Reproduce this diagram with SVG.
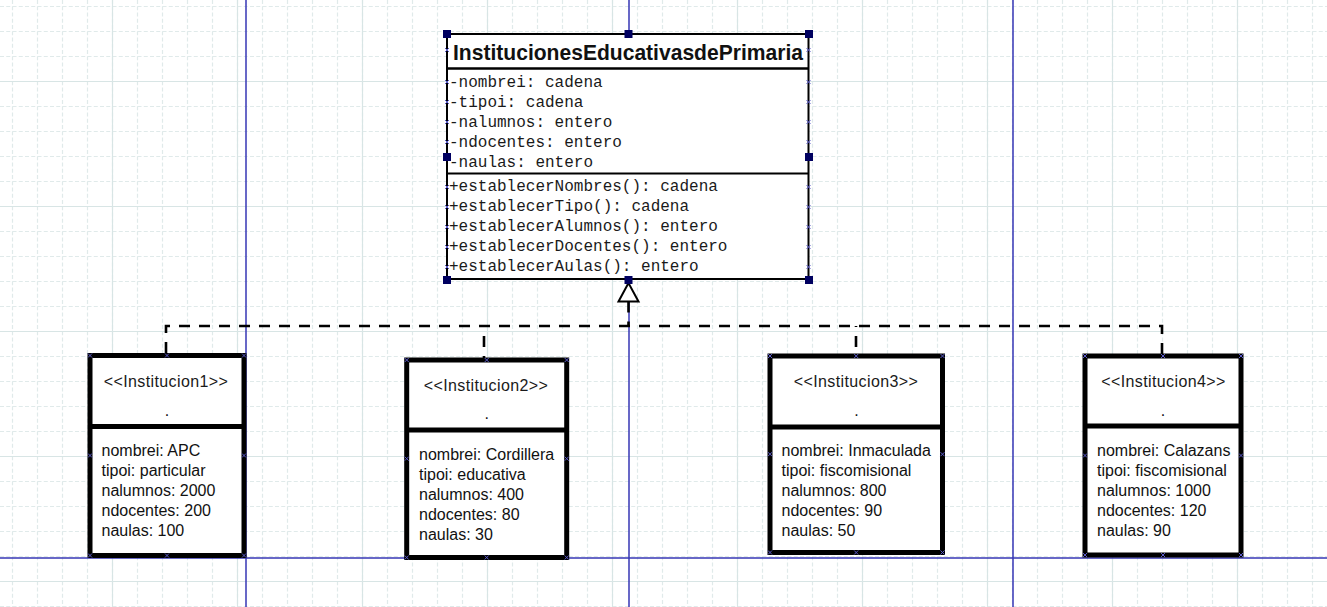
<svg xmlns="http://www.w3.org/2000/svg" width="1327" height="607" viewBox="0 0 1327 607">
<style>
.box{fill:#fff;stroke:#000;stroke-width:5}
.sep{stroke:#000;stroke-width:5}
.cls{fill:#fff;stroke:#000;stroke-width:2}
.mono{font-family:"Liberation Mono","Courier New",monospace;font-size:16px;fill:#1a1a1a}
.title{font-family:"Liberation Sans",Arial,sans-serif;font-weight:bold;font-size:22px;fill:#111}
.hdr{font-family:"Liberation Sans",Arial,sans-serif;font-size:16px;fill:#1a1a1a;letter-spacing:0.4px}
.body{font-family:"Liberation Sans",Arial,sans-serif;font-size:16px;fill:#111}
.mk{fill:none;stroke:#5a5ac8;stroke-width:1}
.hd{fill:#000060}
.blue{stroke:#3636b4;stroke-width:1.5}
.dash{fill:none;stroke:#000;stroke-width:2.6;stroke-dasharray:11 9}
</style>
<defs>
<pattern id="minor" width="25" height="25" patternUnits="userSpaceOnUse">
<line x1="12.5" y1="0" x2="12.5" y2="25" stroke="#e0eaea" stroke-width="1.2" stroke-dasharray="4 2.25"/>
<line x1="0" y1="6.5" x2="25" y2="6.5" stroke="#e0eaea" stroke-width="1.2" stroke-dasharray="4 2.25"/>
</pattern>
<pattern id="major" width="125" height="125" patternUnits="userSpaceOnUse">
<line x1="112.5" y1="0" x2="112.5" y2="125" stroke="#d8e5e5" stroke-width="1.2"/>
<line x1="0" y1="81.5" x2="125" y2="81.5" stroke="#d8e5e5" stroke-width="1.2"/>
</pattern>
</defs>
<rect width="1327" height="607" fill="#fff"/>
<rect width="1327" height="607" fill="url(#minor)"/>
<rect width="1327" height="607" fill="url(#major)"/>
<g id="guides">
<line class="blue" x1="246" y1="0" x2="246" y2="607"/>
<line class="blue" x1="629" y1="0" x2="629" y2="607"/>
<line class="blue" x1="1013" y1="0" x2="1013" y2="607"/>
<line class="blue" x1="0" y1="558" x2="1327" y2="558"/>
</g>
<g id="connectors">
<path class="dash" d="M166 353 V326 H1162 V354"/>
<path class="dash" d="M628.5 301.5 V326"/>
<path class="dash" style="stroke-dashoffset:10" d="M484 326 V358"/>
<path class="dash" style="stroke-dashoffset:10" d="M856 326 V354"/>
<polygon points="628.5,283 618.5,301.5 638.5,301.5" fill="#fff" stroke="#000" stroke-width="2"/>
</g>
<g id="InstitucionesEducativasdePrimaria">
<rect class="cls" x="447" y="34" width="361.5" height="245"/>
<line x1="447" y1="68.5" x2="808.5" y2="68.5" stroke="#000" stroke-width="2.6"/>
<line x1="447" y1="173.5" x2="808.5" y2="173.5" stroke="#000" stroke-width="2"/>
<text class="title" x="453" y="60" textLength="350" lengthAdjust="spacingAndGlyphs">InstitucionesEducativasdePrimaria</text>
<text class="mono" x="449" y="87">-nombrei: cadena</text>
<text class="mono" x="449" y="107">-tipoi: cadena</text>
<text class="mono" x="449" y="127">-nalumnos: entero</text>
<text class="mono" x="449" y="147">-ndocentes: entero</text>
<text class="mono" x="449" y="167">-naulas: entero</text>
<text class="mono" x="449" y="191">+establecerNombres(): cadena</text>
<text class="mono" x="449" y="211">+establecerTipo(): cadena</text>
<text class="mono" x="449" y="231">+establecerAlumnos(): entero</text>
<text class="mono" x="449" y="251">+establecerDocentes(): entero</text>
<text class="mono" x="449" y="271">+establecerAulas(): entero</text>
<path class="mk" d="M445 48 l4 4 m0 -4 l-4 4 M445 80 l4 4 m0 -4 l-4 4 M445 100 l4 4 m0 -4 l-4 4 M445 120 l4 4 m0 -4 l-4 4 M445 140 l4 4 m0 -4 l-4 4 M445 185 l4 4 m0 -4 l-4 4 M445 205 l4 4 m0 -4 l-4 4 M445 225 l4 4 m0 -4 l-4 4 M445 245 l4 4 m0 -4 l-4 4 M445 265 l4 4 m0 -4 l-4 4 M806.5 48 l4 4 m0 -4 l-4 4 M806.5 80 l4 4 m0 -4 l-4 4 M806.5 100 l4 4 m0 -4 l-4 4 M806.5 120 l4 4 m0 -4 l-4 4 M806.5 140 l4 4 m0 -4 l-4 4 M806.5 185 l4 4 m0 -4 l-4 4 M806.5 205 l4 4 m0 -4 l-4 4 M806.5 225 l4 4 m0 -4 l-4 4 M806.5 245 l4 4 m0 -4 l-4 4 M806.5 265 l4 4 m0 -4 l-4 4"/>
<rect class="hd" x="443" y="30" width="8" height="8"/>
<rect class="hd" x="624.5" y="30" width="8" height="8"/>
<rect class="hd" x="805" y="30" width="8" height="8"/>
<rect class="hd" x="443" y="153" width="8" height="8"/>
<rect class="hd" x="805" y="153" width="8" height="8"/>
<rect class="hd" x="443" y="276" width="8" height="8"/>
<rect class="hd" x="624.5" y="276" width="8" height="8"/>
<rect class="hd" x="805" y="276" width="8" height="8"/>
</g>
<g id="Institucion1">
<rect class="box" x="90" y="355.5" width="154" height="200"/>
<line class="sep" x1="90" y1="426.5" x2="244" y2="426.5"/>
<text class="hdr" x="166" y="387" text-anchor="middle">&lt;&lt;Institucion1&gt;&gt;</text>
<text class="body" x="167" y="415.5" text-anchor="middle">.</text>
<text class="body" x="101.5" y="456">nombrei: APC</text>
<text class="body" x="101.5" y="476">tipoi: particular</text>
<text class="body" x="101.5" y="496">nalumnos: 2000</text>
<text class="body" x="101.5" y="516">ndocentes: 200</text>
<text class="body" x="101.5" y="536">naulas: 100</text>
<path class="mk" d="M88 353.5 l4 4 m0 -4 l-4 4 M165 353.5 l4 4 m0 -4 l-4 4 M242 353.5 l4 4 m0 -4 l-4 4 M88 453.5 l4 4 m0 -4 l-4 4 M242 453.5 l4 4 m0 -4 l-4 4 M88 553.5 l4 4 m0 -4 l-4 4 M165 553.5 l4 4 m0 -4 l-4 4 M242 553.5 l4 4 m0 -4 l-4 4"/>
</g>
<g id="Institucion2">
<rect class="box" x="406.7" y="360" width="160" height="197.5"/>
<line class="sep" x1="406.7" y1="430" x2="566.7" y2="430"/>
<text class="hdr" x="486" y="391" text-anchor="middle">&lt;&lt;Institucion2&gt;&gt;</text>
<text class="body" x="486.7" y="418.5" text-anchor="middle">.</text>
<text class="body" x="419" y="460">nombrei: Cordillera</text>
<text class="body" x="419" y="480">tipoi: educativa</text>
<text class="body" x="419" y="500">nalumnos: 400</text>
<text class="body" x="419" y="520">ndocentes: 80</text>
<text class="body" x="419" y="540">naulas: 30</text>
<path class="mk" d="M404.7 358 l4 4 m0 -4 l-4 4 M484.7 358 l4 4 m0 -4 l-4 4 M564.7 358 l4 4 m0 -4 l-4 4 M404.7 456.7 l4 4 m0 -4 l-4 4 M564.7 456.7 l4 4 m0 -4 l-4 4 M404.7 555.5 l4 4 m0 -4 l-4 4 M484.7 555.5 l4 4 m0 -4 l-4 4 M564.7 555.5 l4 4 m0 -4 l-4 4"/>
</g>
<g id="Institucion3">
<rect class="box" x="770" y="356" width="172.5" height="196.5"/>
<line class="sep" x1="770" y1="427" x2="942.5" y2="427"/>
<text class="hdr" x="856" y="387" text-anchor="middle">&lt;&lt;Institucion3&gt;&gt;</text>
<text class="body" x="856.5" y="415.5" text-anchor="middle">.</text>
<text class="body" x="781.5" y="456">nombrei: Inmaculada</text>
<text class="body" x="781.5" y="476">tipoi: fiscomisional</text>
<text class="body" x="781.5" y="496">nalumnos: 800</text>
<text class="body" x="781.5" y="516">ndocentes: 90</text>
<text class="body" x="781.5" y="536">naulas: 50</text>
<path class="mk" d="M768 354 l4 4 m0 -4 l-4 4 M854.2 354 l4 4 m0 -4 l-4 4 M940.5 354 l4 4 m0 -4 l-4 4 M768 452.2 l4 4 m0 -4 l-4 4 M940.5 452.2 l4 4 m0 -4 l-4 4 M768 550.5 l4 4 m0 -4 l-4 4 M854.2 550.5 l4 4 m0 -4 l-4 4 M940.5 550.5 l4 4 m0 -4 l-4 4"/>
</g>
<g id="Institucion4">
<rect class="box" x="1085" y="356" width="156" height="199"/>
<line class="sep" x1="1085" y1="426" x2="1241" y2="426"/>
<text class="hdr" x="1163.5" y="387" text-anchor="middle">&lt;&lt;Institucion4&gt;&gt;</text>
<text class="body" x="1163" y="415.5" text-anchor="middle">.</text>
<text class="body" x="1097" y="456">nombrei: Calazans</text>
<text class="body" x="1097" y="476">tipoi: fiscomisional</text>
<text class="body" x="1097" y="496">nalumnos: 1000</text>
<text class="body" x="1097" y="516">ndocentes: 120</text>
<text class="body" x="1097" y="536">naulas: 90</text>
<path class="mk" d="M1083 354 l4 4 m0 -4 l-4 4 M1161 354 l4 4 m0 -4 l-4 4 M1239 354 l4 4 m0 -4 l-4 4 M1083 453.5 l4 4 m0 -4 l-4 4 M1239 453.5 l4 4 m0 -4 l-4 4 M1083 553 l4 4 m0 -4 l-4 4 M1161 553 l4 4 m0 -4 l-4 4 M1239 553 l4 4 m0 -4 l-4 4"/>
</g>
</svg>
